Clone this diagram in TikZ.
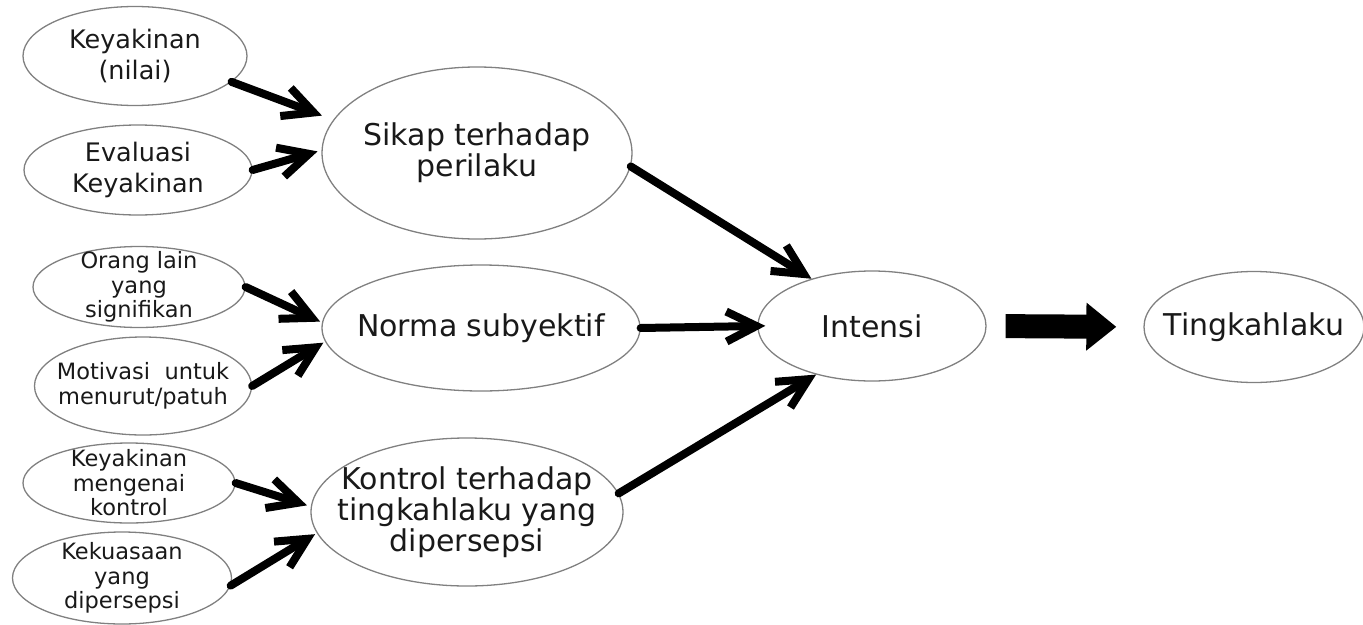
\documentclass[tikz,border=0pt]{standalone}
\usepackage{fontspec}
\setmainfont{DejaVu Sans}
\usetikzlibrary{shapes.geometric,arrows.meta}

\begin{document}
\begin{tikzpicture}[x=1pt,y=-1pt,
  oval/.style={ellipse,draw=black!50,line width=1.3pt,inner xsep=-20pt,inner ysep=-12pt,align=center,text=black!90},
  topsmall/.style={oval,font=\fontsize{25.5}{31}\selectfont},
  lowsmall/.style={oval,font=\fontsize{22.5}{24.5}\selectfont},
  big/.style={oval,font=\fontsize{30}{31}\selectfont},
  link/.style={line width=8pt,line cap=round,-{Straight Barb[length=30pt,width=30pt]}}]
\useasboundingbox (0,0) rectangle (1363,624);
\node[topsmall,minimum width=224pt,minimum height=99pt] (keyakinan) at (135,56) {Keyakinan\\(nilai)};
\node[topsmall,minimum width=228pt,minimum height=90pt] (evaluasi) at (138,170) {Evaluasi\\Keyakinan};
\node[lowsmall,minimum width=212pt,minimum height=81pt] (orang) at (139,287) {Orang lain\\yang\\signifikan};
\node[lowsmall,minimum width=217pt,minimum height=98pt] (motivasi) at (143,386) {Motivasi\ \ untuk\\menurut/patuh};
\node[lowsmall,minimum width=212pt,minimum height=80pt] (mengenai) at (129,483) {Keyakinan\\mengenai\\kontrol};
\node[lowsmall,minimum width=219pt,minimum height=92pt] (kekuasaan) at (122,578) {Kekuasaan\\yang\\dipersepsi};
\node[big,minimum width=310pt,minimum height=172pt] (sikap) at (477,153) {Sikap terhadap\\perilaku};
\node[big,minimum width=318pt,minimum height=126pt] (norma) at (481,328) {Norma subyektif};
\node[big,minimum width=312pt,minimum height=148pt] (kontrol) at (467,512) {Kontrol terhadap\\tingkahlaku yang\\dipersepsi};
\node[big,minimum width=228pt,minimum height=110pt] (intensi) at (872,326) {Intensi};
\node[big,minimum width=220pt,minimum height=111pt] (tingkah) at (1254,327) {Tingkahlaku};
\draw[link,shorten >=12pt] (keyakinan.-15) -- (sikap.167);
\draw[link,shorten >=4pt] (evaluasi.east) -- (sikap.179);
\draw[link,shorten >=2pt] (orang.east) -- (norma.178);
\draw[link,shorten >=2pt] (motivasi.east) -- (norma.185);
\draw[link,shorten >=4pt] (mengenai.east) -- (kontrol.178);
\draw[link,shorten >=2pt] (kekuasaan.-4) -- (kontrol.188);
\draw[link] (sikap.-5) -- (intensi.142);
\draw[link,shorten >=-8pt] (norma.east) -- (intensi.west);
\draw[link] (kontrol.7) -- (intensi.221);
\draw[line width=24pt,-{Triangle[length=30pt,width=46pt]},shorten <=19pt,shorten >=27pt] (intensi.east) -- (tingkah.west);
\end{tikzpicture}
\end{document}
